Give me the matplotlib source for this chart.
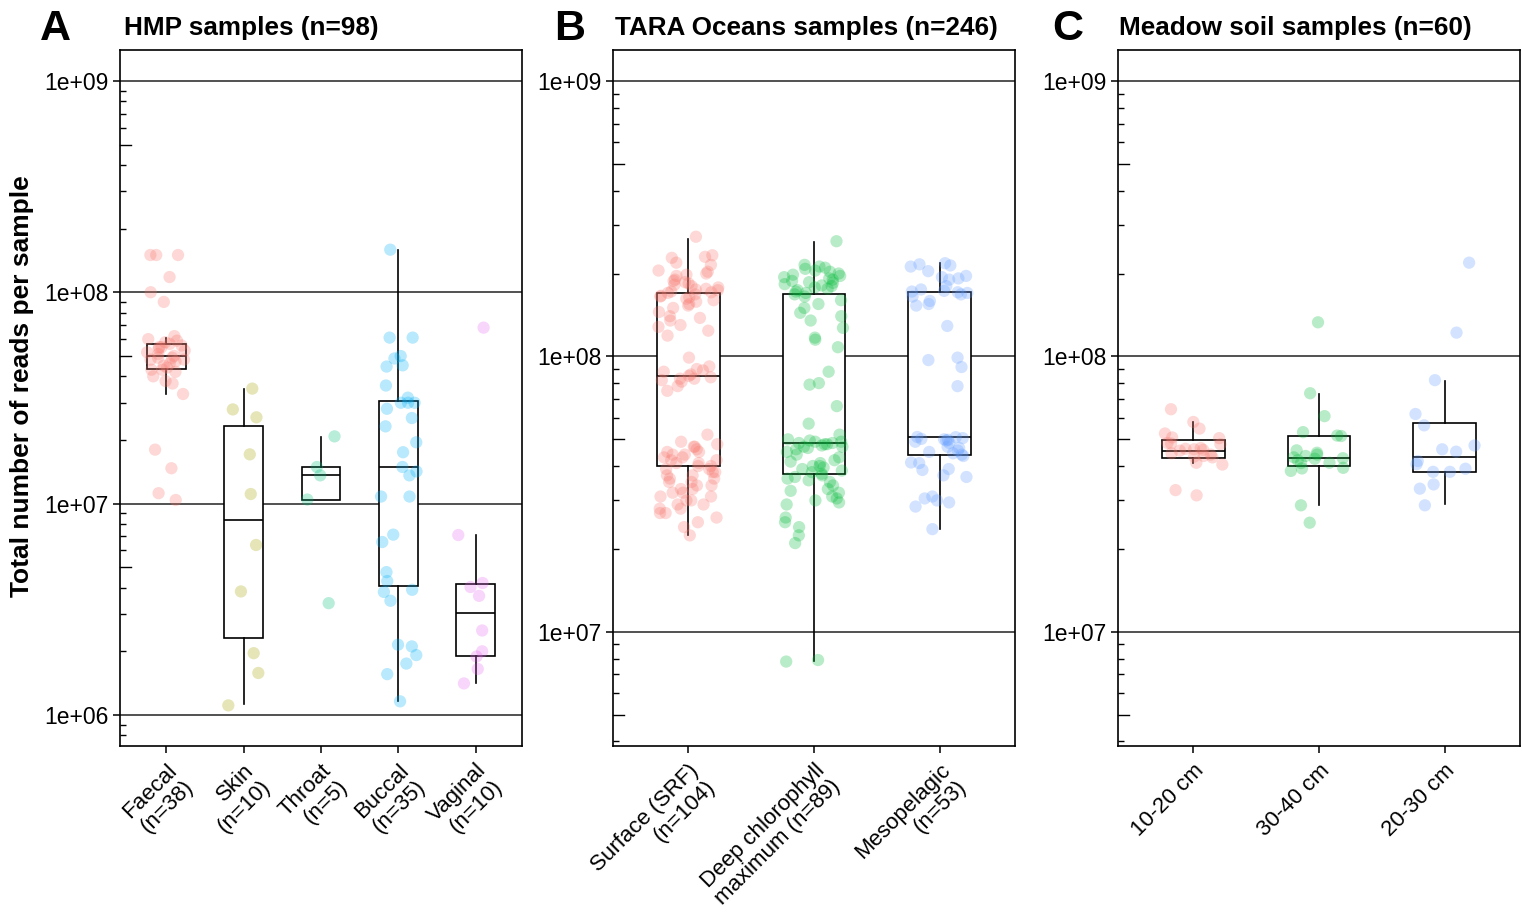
import numpy as np
import matplotlib
matplotlib.use("Agg")
import matplotlib.pyplot as plt
from matplotlib.ticker import LogLocator, NullFormatter

plt.rcParams['font.family'] = ['Liberation Sans', 'DejaVu Sans']

M = 1e6  # all read counts below are in millions

# ---- HMP samples ----
hmp_labels = ["Faecal\n(n=38)", "Skin\n(n=10)", "Throat\n(n=5)", "Buccal\n(n=35)", "Vaginal\n(n=10)"]
hmp_faecal = [150, 150, 150, 118, 100, 90,
              38, 40, 42, 43, 43, 44, 45, 46, 47, 48, 49, 49, 50, 51, 52, 53, 54,
              55, 56, 57, 58, 59, 60, 62, 55, 48,
              37, 33, 18, 14.7, 11.2, 10.4]
hmp_skin = [35, 27.9, 25.6, 17.1, 11.1, 6.37, 3.84, 1.96, 1.58, 1.11]
hmp_throat = [20.8, 14.9, 13.6, 10.45, 3.38]
hmp_buccal = [159, 61, 61, 49.9, 48.6, 45.1, 44.5, 36.2, 31.7, 30, 30, 30, 28.1, 25.4,
              23.2, 19.5, 17.5, 14.9, 14.2, 13.6, 10.8, 10.8, 7.13, 6.58, 4.74, 4.3,
              3.91, 3.82, 3.47, 2.15, 2.11, 1.92, 1.75, 1.56, 1.16]
hmp_vaginal = [68, 7.1, 4.21, 4.03, 3.66, 2.51, 2.0, 1.89, 1.65, 1.41]
hmp_q1 = [43.5, 2.32, 10.45, 4.08, 1.91]
hmp_med = [50.0, 8.4, 13.7, 14.9, 3.03]
hmp_q3 = [57.0, 23.2, 14.9, 30.7, 4.18]
hmp_lo = [33.0, 1.13, 10.45, 1.17, 1.42]
hmp_hi = [61.0, 35.0, 20.7, 159, 7.08]

# ---- TARA Oceans samples ----
tara_labels = ["Surface (SRF)\n(n=104)", "Deep chlorophyll\nmaximum (n=89)", "Mesopelagic\n(n=53)"]
tara_srf = [272, 233, 230, 228, 219, 215, 205, 203, 200, 198, 196, 190, 188, 186, 184,
            180, 178, 176, 175, 174, 172, 170, 168, 166, 165, 164, 162, 160, 158, 155,
            153, 150, 145, 140, 138, 135, 130, 128, 124, 119, 182, 171,
            99, 92, 90, 89, 88, 86, 85, 84, 83, 83, 82, 81, 78, 75,
            52, 49, 48, 47, 47, 46, 45, 45, 44, 44, 43, 43, 42, 42, 41, 41, 40, 40,
            39, 39, 38, 38, 37, 37, 36, 36, 35, 35, 34, 34, 33, 33, 32, 32, 31, 31,
            30, 30, 29, 29, 28, 28, 27, 27, 26, 25, 24, 22.4]
tara_dcm = [262, 215, 212, 210, 208, 205, 203, 200, 198, 196, 194, 192, 190, 188, 186,
            185, 183, 181, 180, 178, 176, 174, 172, 170, 168, 165, 160, 155, 150, 144,
            140, 135, 127, 117, 115, 108,
            88, 80, 79, 66, 57, 52,
            50, 49.5, 49, 49, 48.5, 48.5, 48, 48, 47.5, 47, 47, 46.5, 46, 45,
            44, 43, 42, 41.5, 41, 40, 40, 39.5, 39, 38.5, 38, 37.5,
            37, 36.5, 36, 35.5, 35, 34, 33, 32.5, 32, 31, 30.5, 30, 29.5, 29, 26, 25,
            24, 22.4, 21, 7.9, 7.8]
tara_meso = [218, 216, 214, 212, 204, 196, 194, 192, 190, 180, 175, 173, 172, 171, 170,
             168, 165, 159, 155, 153, 129, 99, 97, 91.5, 78,
             51, 50.9, 50.5, 50.2, 50, 49.8, 49.5, 49, 48.5, 47, 46.5, 45.5, 45, 44.5,
             44, 43.5, 41, 41.2, 39, 38.7, 37, 36.5, 31, 30.5, 30, 29.5, 28.5, 23.6]
tara_q1 = [39.9, 37.3, 43.7]
tara_med = [84.6, 48.6, 50.9]
tara_q3 = [170, 169, 171]
tara_lo = [22.4, 7.83, 23.6]
tara_hi = [268, 261, 219]

# ---- Meadow soil samples ----
soil_labels = ["10-20 cm", "30-40 cm", "20-30 cm"]
soil_10_20 = [64.3, 57.8, 54.7, 52.5, 50.8, 50.5, 48.5, 48.3, 48, 46.5, 46.2, 46, 45.8,
              45.5, 44.5, 44, 43.5, 43.3, 43, 41.1, 40.5, 32.7, 31.3]
soil_30_40 = [133, 73.5, 60.7, 53.1, 51.6, 51.4, 45.6, 44.7, 43.5, 43, 42.7, 42.5, 42,
              41.1, 41, 39.4, 39.2, 38.4, 28.8, 24.9, 44]
soil_20_30 = [219, 122, 82, 61.8, 56.2, 47.5, 46, 45.1, 41.7, 40.6, 39.1, 38.1, 38.1,
              34.3, 33.1, 28.8]
soil_q1 = [42.8, 40.1, 37.9]
soil_med = [45.5, 42.6, 43.3]
soil_q3 = [49.9, 51.4, 57.1]
soil_lo = [41.1, 28.8, 29.0]
soil_hi = [57.6, 73.3, 81.6]

hue5 = ["#F8766D", "#A3A500", "#00BF7D", "#00B0F6", "#E76BF3"]
hue3 = ["#F8766D", "#00BA38", "#619CFF"]

fig = plt.figure(figsize=(15.22, 9.14), dpi=100)
W, H = 1522, 914


def panel(left_px, groups, labels, q1, med, q3, lo, hi, colors, ylim, spread, seed):
    ax = fig.add_axes([left_px / W, (H - 746) / H, 402 / W, 696 / H])
    ax.set_yscale('log')
    n = len(groups)
    pos = np.arange(1, n + 1)
    stats = []
    for i in range(n):
        stats.append(dict(med=med[i] * M, q1=q1[i] * M, q3=q3[i] * M,
                          whislo=lo[i] * M, whishi=hi[i] * M, fliers=[]))
    ax.bxp(stats, positions=pos, widths=0.5, showcaps=False, showfliers=False,
           patch_artist=True,
           boxprops=dict(facecolor='white', edgecolor='black', linewidth=1.2),
           medianprops=dict(color='black', linewidth=1.2),
           whiskerprops=dict(color='black', linewidth=1.2), zorder=2)
    rng = np.random.default_rng(seed)
    for i, vals in enumerate(groups):
        v = np.array(vals) * M
        x = pos[i] + rng.uniform(-spread, spread, len(v))
        ax.scatter(x, v, s=78, color=colors[i], alpha=0.28, edgecolors='none', zorder=3)

    ax.set_xlim(0.4, n + 0.6)
    ax.set_ylim(*ylim)
    ax.yaxis.set_major_locator(LogLocator(base=10, numticks=12))
    ax.yaxis.set_major_formatter(plt.FuncFormatter(lambda y, p: f"1e+{int(round(np.log10(y))):02d}"))
    ax.yaxis.set_minor_locator(LogLocator(base=10, subs=(2, 3, 4, 6, 7, 8, 9), numticks=12))
    ax.yaxis.set_minor_formatter(NullFormatter())
    ax.tick_params(axis='y', which='major', direction='out', length=5, width=1.1,
                   labelsize=16.5, pad=3)
    ax.tick_params(axis='y', which='minor', direction='in', length=4.5, width=1.0)
    ax.yaxis.grid(True, which='major', color='#222222', linewidth=1.1)
    ax.set_axisbelow(True)
    # medium ticks at 5 x 10^k
    lo_e, hi_e = int(np.floor(np.log10(ylim[0]))), int(np.ceil(np.log10(ylim[1])))
    for e in range(lo_e, hi_e):
        y5 = 5 * 10 ** e
        if ylim[0] < y5 < ylim[1]:
            ax.plot([0, 0.028], [y5, y5], transform=ax.get_yaxis_transform(),
                    color='black', lw=1.0, clip_on=False, zorder=4)

    ax.set_xticks(pos)
    ax.set_xticklabels(labels, rotation=45, ha='right', va='top',
                       rotation_mode='anchor', fontsize=16, linespacing=1.1)
    ax.tick_params(axis='x', direction='out', length=5, width=1.1, pad=5)
    for s in ax.spines.values():
        s.set_linewidth(1.2)
    return ax


axA = panel(120, [hmp_faecal, hmp_skin, hmp_throat, hmp_buccal, hmp_vaginal], hmp_labels,
            hmp_q1, hmp_med, hmp_q3, hmp_lo, hmp_hi, hue5, (7.13e5, 1.40e9), 0.25, 3)
axB = panel(613, [tara_srf, tara_dcm, tara_meso], tara_labels,
            tara_q1, tara_med, tara_q3, tara_lo, tara_hi, hue3, (3.85e6, 1.296e9), 0.24, 7)
axC = panel(1118, [soil_10_20, soil_30_40, soil_20_30], soil_labels,
            soil_q1, soil_med, soil_q3, soil_lo, soil_hi, hue3, (3.85e6, 1.296e9), 0.24, 11)

# panel letters and titles
for x_letter, x_title, letter, title in [(40, 124, "A", "HMP samples (n=98)"),
                                         (554, 615, "B", "TARA Oceans samples (n=246)"),
                                         (1052, 1119, "C", "Meadow soil samples (n=60)")]:
    fig.text(x_letter / W, 1 - 40 / H, letter, fontsize=31, fontweight='bold', va='baseline')
    fig.text(x_title / W, 1 - 35 / H, title, fontsize=18.8, fontweight='bold', va='baseline')

fig.text(22 / W, 1 - 386 / H, "Total number of reads per sample", rotation=90,
         fontsize=19, fontweight='bold', ha='center', va='center')

fig.savefig("out.png", dpi=100)
